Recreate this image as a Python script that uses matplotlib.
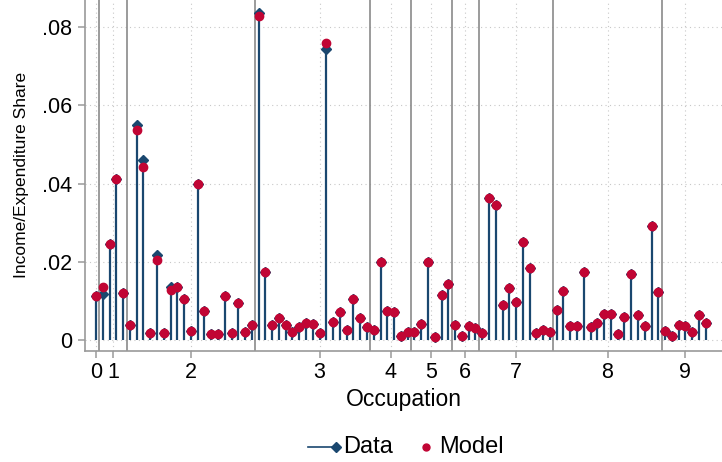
import numpy as np
import matplotlib.pyplot as plt
from matplotlib.lines import Line2D

plt.rcParams['font.family'] = ['Liberation Sans', 'DejaVu Sans']

# occupation shares, one entry per sub-occupation (index 0..90)
data = [0.0113, 0.0116, 0.0246, 0.0412, 0.0119, 0.0038, 0.0551, 0.0460, 0.0017, 0.0216,
        0.0017, 0.0135, 0.0134, 0.0105, 0.0023, 0.0399, 0.0073, 0.0014, 0.0014, 0.0113,
        0.0016, 0.0095, 0.0019, 0.0038, 0.0836, 0.0173, 0.0038, 0.0055, 0.0038, 0.0019,
        0.0032, 0.0044, 0.0041, 0.0018, 0.0745, 0.0045, 0.0071, 0.0026, 0.0104, 0.0055,
        0.0032, 0.0026, 0.0199, 0.0074, 0.0070, 0.0009, 0.0020, 0.0019, 0.0041, 0.0200,
        0.0008, 0.0115, 0.0143, 0.0038, 0.0010, 0.0035, 0.0029, 0.0017, 0.0364, 0.0346,
        0.0089, 0.0132, 0.0096, 0.0249, 0.0184, 0.0016, 0.0026, 0.0020, 0.0077, 0.0125,
        0.0034, 0.0034, 0.0173, 0.0032, 0.0043, 0.0067, 0.0066, 0.0014, 0.0058, 0.0169,
        0.0064, 0.0035, 0.0292, 0.0122, 0.0023, 0.0010, 0.0038, 0.0034, 0.0020, 0.0063,
        0.0043]
model = list(data)
# where model differs from data
model_diff = {1: 0.0134, 6: 0.0537, 7: 0.0443, 9: 0.0204, 11: 0.0127, 24: 0.0829, 34: 0.0760}
for k, v in model_diff.items():
    model[k] = v

group_breaks = [0.5, 4.5, 23.5, 40.5, 46.5, 52.5, 56.5, 67.5, 83.5]
tick_pos = [0, 2.5, 14, 33, 43.5, 49.5, 54.5, 62, 75.5, 87]
tick_lab = ['0', '1', '2', '3', '4', '5', '6', '7', '8', '9']
yticks = [0, 0.02, 0.04, 0.06, 0.08]
ylabs = ['0', '.02', '.04', '.06', '.08']

navy = '#1a476f'
red = '#c10534'

W, H = 722, 462
fig = plt.figure(figsize=(W / 100, H / 100), dpi=100)
ax = fig.add_axes([0.118, 0.241, 0.882, 0.759])

x = np.arange(len(data))

for b in group_breaks:
    ax.axvline(b, color='#8a8a8a', lw=1.2, zorder=1)

ax.vlines(x, 0, data, color=navy, lw=1.6, zorder=2)
ax.plot(x, data, ls='none', marker='D', ms=5.5, color=navy, zorder=3)
ax.plot(x, model, ls='none', marker='o', ms=6, color=red, zorder=4)

ax.set_xlim(-1.6, 92.4)
ax.set_ylim(-0.0028, 0.087)
ax.set_xticks(tick_pos)
ax.set_xticklabels(tick_lab)
ax.set_yticks(yticks)
ax.set_yticklabels(ylabs)
ax.grid(True, ls=(0, (1, 3)), color='#c8c8c8', lw=0.8)
ax.set_axisbelow(True)

for s in ['top', 'right']:
    ax.spines[s].set_visible(False)
for s in ['left', 'bottom']:
    ax.spines[s].set_color('#9a9a9a')
    ax.spines[s].set_linewidth(1.2)
ax.tick_params(colors='#9a9a9a', labelcolor='black', labelsize=15.5, length=5, width=1.1)
ax.tick_params(axis='y', pad=4.5)
ax.tick_params(axis='x', pad=3)

ax.set_xlabel('Occupation', fontsize=16.5, labelpad=4)
ax.set_ylabel('Income/Expenditure Share', fontsize=12.5, labelpad=9)

# legend drawn by hand (Stata style: diamond at the end of the line)
ly = (H - 447) / H
fig.add_artist(Line2D([308 / W, 336 / W], [ly, ly], color=navy, lw=1.2))
fig.add_artist(Line2D([336 / W], [ly], ls='none', marker='D', ms=5.5, color=navy))
fig.text(343 / W, ly, 'Data', fontsize=17, va='center', ha='left')
fig.add_artist(Line2D([426 / W], [ly], ls='none', marker='o', ms=5, color=red))
fig.text(439 / W, ly, 'Model', fontsize=17, va='center', ha='left')

fig.savefig('out.png', dpi=100)
